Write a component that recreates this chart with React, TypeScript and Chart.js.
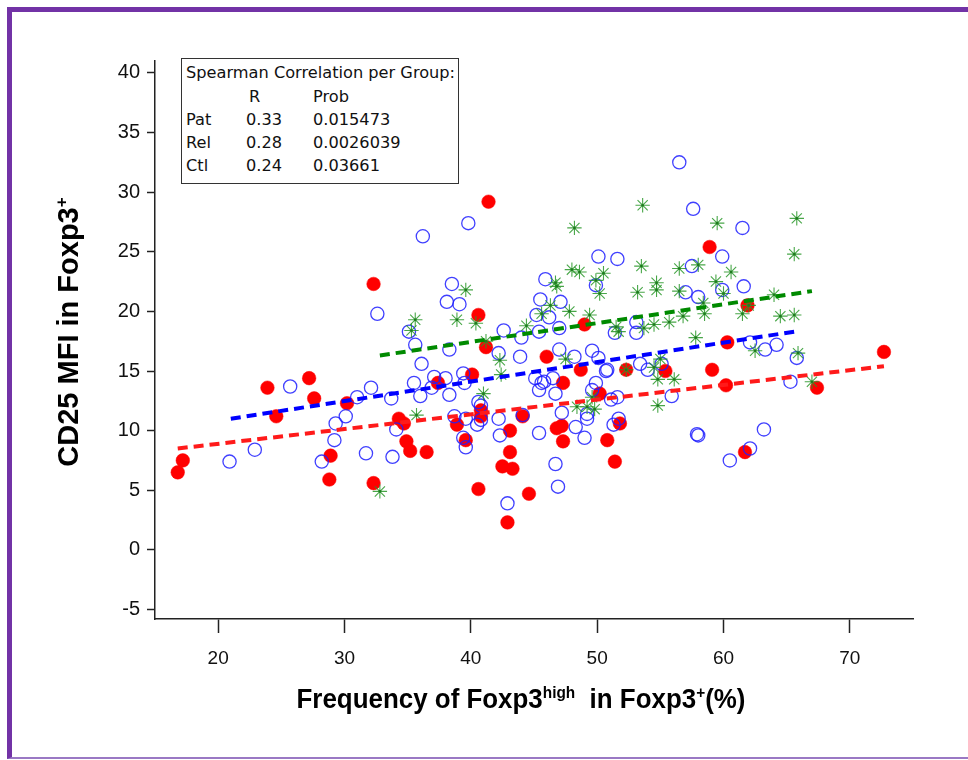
import React, { useEffect, useRef } from 'react';
import { Chart, registerables } from 'chart.js';

Chart.register(...registerables);

// Pat (red filled circles)
const patX = [16.8, 17.2, 23.9, 24.6, 27.2, 27.6, 28.8, 28.9, 30.2, 32.3, 32.3, 34.3, 34.7, 34.9, 35.2, 36.5, 37.4, 38.9, 39.6, 40.1, 40.6, 40.6, 40.8, 40.8, 41.2, 41.4, 42.5, 42.9, 43.1, 43.1, 43.3, 44.1, 44.6, 46.0, 46.8, 47.2, 47.3, 47.3, 48.7, 49.0, 50.2, 50.8, 51.4, 51.8, 52.3, 55.4, 58.9, 59.1, 60.2, 60.3, 61.7, 61.9, 67.4, 72.7];
const patY = [6.5, 7.5, 13.6, 11.2, 14.4, 12.7, 5.9, 7.9, 12.3, 22.3, 5.6, 11.0, 10.6, 9.1, 8.3, 8.2, 14.0, 10.5, 9.2, 14.7, 19.7, 5.1, 11.7, 11.2, 17.0, 29.2, 7.0, 2.3, 10.0, 8.2, 6.8, 11.2, 4.7, 16.2, 10.2, 10.4, 14.0, 9.1, 15.1, 18.9, 13.1, 9.2, 7.4, 10.6, 15.1, 15.0, 25.4, 15.1, 13.8, 17.4, 8.2, 20.5, 13.6, 16.6];

// Rel (blue open circles)
const relX = [20.9, 22.9, 25.7, 28.2, 29.2, 29.3, 30.1, 31.0, 31.7, 32.1, 32.6, 33.7, 33.8, 34.1, 35.1, 35.5, 35.6, 36.0, 36.1, 36.2, 36.9, 37.1, 38.0, 38.1, 38.3, 38.3, 38.5, 38.7, 39.1, 39.4, 39.4, 39.5, 39.6, 39.6, 39.8, 40.5, 40.6, 40.8, 40.8, 42.2, 42.2, 42.3, 42.6, 42.9, 43.9, 44.0, 44.1, 45.1, 45.2, 45.4, 45.4, 45.4, 45.5, 45.6, 45.8, 45.9, 46.2, 46.5, 46.7, 46.7, 46.9, 47.0, 47.0, 47.1, 47.2, 48.2, 48.3, 49.0, 49.2, 49.2, 49.6, 49.6, 49.9, 49.9, 50.1, 50.1, 50.7, 50.8, 51.1, 51.3, 51.4, 51.6, 51.6, 51.7, 53.1, 53.1, 53.4, 54.0, 55.1, 55.9, 56.5, 57.0, 57.5, 57.6, 57.9, 58.0, 58.0, 59.9, 59.9, 60.5, 61.5, 61.6, 62.1, 62.1, 63.2, 63.3, 64.2, 65.3, 65.8];
const relY = [7.4, 8.4, 13.7, 7.4, 9.2, 10.6, 11.2, 12.8, 8.1, 13.6, 19.8, 12.7, 7.8, 10.1, 18.3, 14.0, 17.2, 12.9, 15.6, 26.3, 13.6, 14.5, 14.4, 20.8, 16.8, 13.0, 22.3, 11.2, 20.6, 14.8, 9.4, 14.0, 11.0, 8.6, 27.4, 10.5, 12.4, 12.1, 10.9, 16.5, 11.0, 9.6, 18.4, 3.9, 16.2, 17.8, 11.3, 14.4, 19.7, 18.3, 13.4, 9.8, 21.0, 14.0, 14.1, 22.7, 19.5, 14.4, 13.1, 7.2, 5.3, 18.6, 16.8, 20.8, 11.5, 16.2, 10.3, 9.4, 11.4, 11.0, 16.7, 13.4, 22.2, 14.0, 24.6, 16.1, 15.0, 15.1, 12.6, 10.5, 18.2, 24.4, 12.8, 11.0, 19.1, 18.2, 15.6, 15.1, 15.6, 12.9, 32.5, 21.6, 23.8, 28.6, 9.7, 9.6, 21.2, 24.6, 21.8, 7.5, 27.0, 22.1, 17.4, 8.5, 10.1, 16.8, 17.2, 14.1, 16.1];

// Ctl (green asterisks)
const ctlX = [32.8, 35.3, 35.6, 35.7, 38.9, 39.6, 40.4, 41.0, 41.2, 42.3, 42.4, 44.4, 45.6, 46.3, 46.7, 46.8, 47.5, 47.8, 48.0, 48.2, 48.4, 48.6, 49.2, 49.4, 49.6, 49.8, 49.9, 50.2, 50.5, 51.5, 51.7, 52.3, 53.2, 53.5, 53.6, 53.7, 54.5, 54.5, 54.7, 54.7, 54.8, 54.8, 55.0, 55.7, 56.1, 56.5, 56.5, 56.8, 57.8, 58.0, 58.4, 58.5, 59.4, 59.5, 60.0, 60.6, 61.5, 62.0, 62.5, 64.0, 64.5, 65.6, 65.6, 65.8, 65.9, 67.0];
const ctlY = [4.9, 18.4, 19.3, 11.3, 19.3, 21.8, 19.0, 13.1, 17.5, 15.9, 14.7, 18.8, 19.8, 20.5, 22.4, 22.1, 16.0, 20.0, 23.5, 27.0, 12.0, 23.3, 12.0, 19.7, 12.8, 11.8, 22.6, 21.5, 23.2, 18.7, 18.3, 15.1, 21.6, 23.8, 28.9, 18.6, 18.9, 15.3, 22.4, 21.8, 14.3, 12.1, 16.0, 19.1, 14.3, 23.6, 21.7, 19.6, 17.8, 23.9, 20.7, 19.8, 22.5, 27.4, 21.5, 23.3, 19.8, 20.5, 16.7, 21.4, 19.6, 24.8, 19.7, 27.8, 16.5, 14.1];

// Regression lines
const patFitX = [16.8, 72.7];
const patFitY = [8.5, 15.4];
const relFitX = [21.0, 65.6];
const relFitY = [11.0, 18.3];
const ctlFitX = [32.8, 67.0];
const ctlFitY = [16.3, 21.7];

const xTicks = [20, 30, 40, 50, 60, 70];
const yTicks = [-5, 0, 5, 10, 15, 20, 25, 30, 35, 40];

const statsHeader = ['R', 'Prob'];
const statsGroups = ['Pat', 'Rel', 'Ctl'];
const statsR = ['0.33', '0.28', '0.24'];
const statsProb = ['0.015473', '0.0026039', '0.03661'];

const toPts = (xs: number[], ys: number[]) => xs.map((x, i) => ({ x, y: ys[i] }));

const SANS = '"Liberation Sans", Arial, sans-serif';
const BOXFONT = '"DejaVu Sans", "Liberation Sans", sans-serif';

export default function App() {
  const ref = useRef<HTMLCanvasElement>(null);

  useEffect(() => {
    const chart = new Chart(ref.current as HTMLCanvasElement, {
      type: 'scatter',
      data: {
        datasets: [
          { data: toPts(ctlFitX, ctlFitY), showLine: true, borderColor: '#008a00', borderWidth: 4, borderDash: [10, 6], pointRadius: 0, order: 0 } as any,
          { data: toPts(relFitX, relFitY), showLine: true, borderColor: '#0000ff', borderWidth: 4, borderDash: [10, 6], pointRadius: 0, order: 1 } as any,
          { data: toPts(patFitX, patFitY), showLine: true, borderColor: '#ff1a1a', borderWidth: 4, borderDash: [10, 6], pointRadius: 0, order: 2 } as any,
          { data: toPts(ctlX, ctlY), pointStyle: 'circle', pointRadius: 1.3, backgroundColor: '#1f7a1f', borderWidth: 0, order: 3 } as any,
          { data: toPts(ctlX, ctlY), pointStyle: 'star', pointRadius: 7.2, borderColor: 'rgba(40,150,40,0.85)', borderWidth: 1.1, backgroundColor: 'transparent', order: 4 } as any,
          { data: toPts(relX, relY), pointStyle: 'circle', pointRadius: 6.6, borderColor: 'rgba(30,30,255,0.85)', borderWidth: 1.3, backgroundColor: 'transparent', order: 5 } as any,
          { data: toPts(patX, patY), pointStyle: 'circle', pointRadius: 6.8, borderColor: '#ff0000', borderWidth: 0.5, backgroundColor: '#ff0000', order: 6 } as any,
        ],
      },
      options: {
        responsive: false,
        animation: false,
        devicePixelRatio: 1,
        events: [],
        layout: { padding: { left: 0, right: 55, top: 61, bottom: 0 } },
        plugins: { legend: { display: false }, tooltip: { enabled: false }, title: { display: false } },
        scales: {
          x: {
            type: 'linear',
            min: 15,
            max: 75,
            afterFit: (s: any) => { s.height = 141; },
            afterBuildTicks: (s: any) => { s.ticks = xTicks.map((v) => ({ value: v })); },
            grid: { drawOnChartArea: false, drawTicks: true, tickLength: 14, tickColor: '#222', tickWidth: 1.5 },
            border: { display: true, color: '#222', width: 1.5 },
            ticks: { color: '#111', font: { family: SANS, size: 19 }, padding: 14, maxRotation: 0, autoSkip: false },
          },
          y: {
            type: 'linear',
            min: -5.8,
            max: 41,
            afterFit: (s: any) => { s.width = 155; },
            afterBuildTicks: (s: any) => { s.ticks = yTicks.map((v) => ({ value: v })); },
            grid: { drawOnChartArea: false, drawTicks: true, tickLength: 8, tickColor: '#222', tickWidth: 1.5 },
            border: { display: true, color: '#222', width: 1.5 },
            ticks: { color: '#111', font: { family: SANS, size: 20 }, padding: 7, autoSkip: false },
          },
        },
      } as any,
    });
    return () => chart.destroy();
  }, []);

  const rowTop = (c: number) => c - 58 - 12;

  return (
    <div style={{ position: 'absolute', left: 0, top: 0, width: 968, height: 760, overflow: 'hidden', background: '#fff' }}>
      <canvas ref={ref} width={968} height={760} style={{ position: 'absolute', left: 0, top: 0, width: 968, height: 760 }} />
      <div style={{ position: 'absolute', left: 7, top: 7, width: 1000, height: 752, boxSizing: 'border-box', borderLeft: '5px solid #7232a6', borderTop: '5px solid #7232a6', borderBottom: '2px solid #9a78c4', pointerEvents: 'none' }} />
      <div style={{ position: 'absolute', left: 181, top: 58, width: 278, height: 126, boxSizing: 'border-box', border: '1.5px solid #333', background: '#fff', fontFamily: BOXFONT, fontSize: 16.2, color: '#111', lineHeight: '22px' }}>
        <div style={{ position: 'absolute', left: 4, top: rowTop(73), whiteSpace: 'nowrap' }}>Spearman Correlation per Group:</div>
        <div style={{ position: 'absolute', left: 67, top: rowTop(97) }}>{statsHeader[0]}</div>
        <div style={{ position: 'absolute', left: 131, top: rowTop(97) }}>{statsHeader[1]}</div>
        {statsGroups.map((g, i) => (
          <React.Fragment key={g}>
            <div style={{ position: 'absolute', left: 4, top: rowTop(120 + i * 23) }}>{g}</div>
            <div style={{ position: 'absolute', left: 64, top: rowTop(120 + i * 23) }}>{statsR[i]}</div>
            <div style={{ position: 'absolute', left: 131, top: rowTop(120 + i * 23) }}>{statsProb[i]}</div>
          </React.Fragment>
        ))}
      </div>
      <div style={{ position: 'absolute', left: 221, width: 600, top: 673, textAlign: 'center', fontFamily: SANS, fontWeight: 'bold', fontSize: 27, lineHeight: '40px', color: '#000', whiteSpace: 'nowrap', transform: 'scaleX(0.96)' }}>
        Frequency of Foxp3<sup style={{ fontSize: 16 }}>high</sup>{'\u00a0 in Foxp3'}<sup style={{ fontSize: 16 }}>+</sup>(%)
      </div>
      <div style={{ position: 'absolute', left: 62 - 200, top: 332 - 20, width: 400, height: 40, lineHeight: '40px', textAlign: 'center', transform: 'rotate(-90deg)', fontFamily: SANS, fontWeight: 'bold', fontSize: 29, color: '#000', whiteSpace: 'nowrap' }}>
        CD25 MFI in Foxp3<sup style={{ fontSize: 17 }}>+</sup>
      </div>
    </div>
  );
}
